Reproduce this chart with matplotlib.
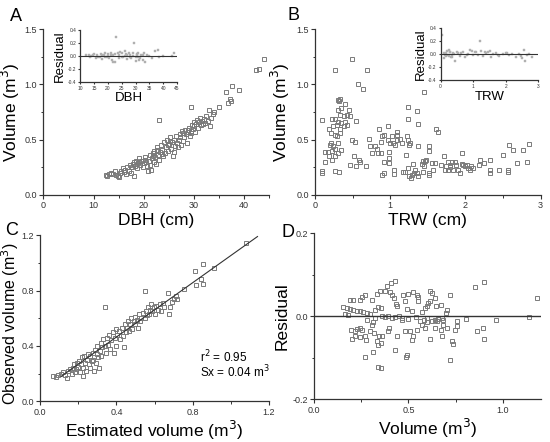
import matplotlib
matplotlib.use("Agg")
import matplotlib.pyplot as plt
import numpy as np
from matplotlib.ticker import MultipleLocator

# ---------------- data ----------------
# Panel A: DBH (cm) vs volume (m3)
dbh_a = [12.4,12.6,13.0,13.5,13.9,14.2,14.5,14.8,15.0,15.2,15.5,15.8,16.0,16.3,16.5,16.7,17.0,17.2,17.5,17.6,
         17.8,18.0,18.0,18.3,18.5,18.7,18.9,19.0,19.3,19.5,19.8,20.0,20.2,20.5,20.6,20.8,21.0,21.2,21.3,21.5,
         21.6,21.8,22.0,22.0,22.3,22.5,22.6,22.8,23.0,23.1,23.3,23.5,23.7,23.9,24.0,24.2,24.4,24.6,24.8,25.0,
         25.2,25.4,25.6,25.8,26.0,26.0,26.3,26.5,26.7,27.0,27.2,27.4,27.6,27.8,28.0,28.2,28.4,28.6,28.8,29.0,
         29.2,29.5,29.5,29.7,29.9,30.1,30.3,30.5,30.7,30.9,31.1,31.3,31.5,31.7,32.0,32.3,32.5,32.8,33.0,33.2,
         33.5,33.8,34.1,35.0,36.5,36.8,37.3,37.5,37.6,39.0,42.5,43.0,44.0,
         19.1,20.3,21.9,23.6,24.9,26.8,27.9,28.9,30.0,31.8,22.7,25.3,27.3,29.4]
vol_a = [0.18,0.17,0.19,0.20,0.19,0.22,0.18,0.17,0.16,0.20,0.22,0.24,0.21,0.23,0.19,0.25,0.22,0.27,0.20,0.25,
         0.28,0.17,0.30,0.26,0.31,0.24,0.29,0.33,0.27,0.31,0.25,0.29,0.34,0.30,0.26,0.22,0.31,0.36,0.27,0.23,
         0.33,0.38,0.30,0.40,0.34,0.28,0.43,0.36,0.68,0.32,0.39,0.45,0.41,0.35,0.48,0.38,0.43,0.50,0.40,0.46,
         0.52,0.42,0.48,0.35,0.39,0.50,0.44,0.53,0.47,0.50,0.55,0.45,0.58,0.49,0.52,0.59,0.55,0.47,0.57,0.61,
         0.53,0.80,0.58,0.63,0.60,0.66,0.57,0.64,0.68,0.61,0.66,0.70,0.63,0.67,0.69,0.65,0.71,0.67,0.77,0.62,
         0.70,0.73,0.75,0.80,0.93,0.83,0.87,0.85,0.99,0.95,1.13,1.14,1.23,
         0.30,0.32,0.35,0.37,0.45,0.43,0.56,0.59,0.62,0.64,0.41,0.49,0.52,0.56]

# Inset A: DBH vs residual
dbh_ins = [12,13,13.5,14,15,15.5,16,17,17.5,18,18.5,19,19.5,20,20.5,21,21.5,22,22.5,22,23,23.5,24,24.5,25,
           25.5,26,26.5,27,27.5,28,28.5,29,29.5,30,30.5,31,31.5,32,32.5,33,33.5,34,35,36,37,38,38.5,40,43,44,
           14.5,16.5,18,19,20,21,22.5,24,25,26,27,28,29,30.5,31,32.5,30,31.2]
res_ins_a = [0.01,0.02,-0.02,0.0,0.03,-0.03,0.01,-0.01,0.03,-0.05,0.02,0.04,-0.02,0.03,-0.04,0.05,-0.06,0.02,
             -0.10,-0.10,0.30,0.04,-0.03,0.06,0.05,-0.02,0.07,0.03,-0.05,0.04,0.02,-0.03,0.05,0.20,-0.02,0.03,
             0.05,-0.04,0.02,-0.06,0.04,-0.10,0.02,0.0,-0.03,0.07,0.09,-0.02,0.0,0.0,0.05,
             0.02,-0.02,0.01,-0.01,0.0,0.01,0.03,0.01,-0.01,0.0,0.02,-0.01,0.0,0.01,-0.01,0.02,-0.08,-0.06]

# Panel B: TRW (cm) vs volume (m3)
trw_b = [0.09,0.09,0.09,0.13,0.17,0.13,0.18,0.20,0.22,0.19,0.21,0.23,0.27,0.24,0.29,0.26,0.21,0.24,0.27,0.23,
         0.27,0.26,0.26,0.32,0.30,0.33,0.32,0.31,0.35,0.33,0.38,0.31,0.35,0.40,0.33,0.38,0.42,0.29,0.33,0.30,
         0.35,0.30,0.40,0.45,0.42,0.46,0.49,0.49,0.53,0.52,0.47,0.55,0.55,0.57,0.63,0.58,0.60,0.69,0.67,0.72,
         0.73,0.75,0.80,0.82,0.85,0.84,0.88,0.88,0.89,0.92,0.91,0.89,0.92,0.97,1.00,1.02,0.97,0.98,0.98,0.98,
         1.04,1.06,1.09,1.05,1.05,1.09,1.09,1.13,1.15,1.17,1.19,1.21,1.22,1.24,1.26,1.25,1.23,1.23,1.24,1.25,
         1.28,1.29,1.31,1.30,1.35,1.37,1.37,1.33,1.35,1.37,1.42,1.44,1.46,1.48,1.45,1.45,1.44,1.51,1.52,1.52,
         1.52,1.55,1.57,1.60,1.61,1.63,1.67,1.71,1.73,1.74,1.77,1.79,1.82,1.77,1.79,1.84,1.86,1.88,1.90,1.93,
         1.95,1.95,1.97,1.99,2.02,2.04,2.06,2.08,2.10,2.18,2.19,2.24,2.33,2.33,2.33,2.45,2.50,2.56,2.56,2.58,
         2.63,2.68,2.77,2.82,2.84]
vol_b = [0.68,0.22,0.20,0.39,0.39,0.30,0.35,0.45,0.40,0.60,0.56,0.69,0.69,0.62,0.63,0.54,0.47,0.44,0.42,0.32,
         0.35,1.13,0.22,0.21,0.86,0.87,0.85,0.77,0.79,0.72,0.71,0.66,0.65,0.66,0.60,0.62,0.63,0.53,0.56,0.47,
         0.41,0.38,0.82,0.77,0.72,0.71,1.23,0.50,0.48,0.35,0.27,0.26,0.67,1.00,0.96,0.32,0.30,1.13,0.26,0.51,
         0.44,0.38,0.44,0.42,0.60,0.38,0.38,0.48,0.53,0.54,0.30,0.18,0.20,0.50,0.47,0.53,0.62,0.39,0.33,0.29,
         0.47,0.45,0.50,0.23,0.19,0.54,0.57,0.51,0.47,0.21,0.21,0.36,0.53,0.50,0.47,0.45,0.80,0.69,0.24,0.17,
         0.15,0.18,0.20,0.28,0.76,0.64,0.44,0.23,0.20,0.17,0.28,0.31,0.31,0.32,0.93,0.26,0.21,0.44,0.40,0.18,
         0.20,0.29,0.23,0.29,0.60,0.57,0.27,0.35,0.23,0.26,0.30,0.27,0.30,0.23,0.25,0.23,0.30,0.27,0.23,0.20,
         0.38,0.28,0.27,0.26,0.27,0.24,0.23,0.26,0.24,0.27,0.32,0.29,0.32,0.23,0.20,0.23,0.36,0.23,0.21,0.45,
         0.41,0.29,0.41,0.30,0.46]

# Inset B: TRW vs residual
trw_ins = [0.05,0.1,0.15,0.2,0.25,0.3,0.35,0.4,0.45,0.5,0.55,0.6,0.7,0.8,0.9,0.95,1.0,1.1,1.2,1.25,1.3,1.4,
           1.5,1.55,1.6,1.7,1.8,1.9,2.0,2.1,2.2,2.3,2.4,2.5,2.55,2.6,2.65,2.7,2.8,0.12,0.18,0.22,0.28,0.32,
           0.38,1.15,1.45,1.05,0.85,0.75,0.16,0.26,0.34,0.62,1.35,1.75,2.05,2.45]
res_ins_b = [0.30,0.01,-0.02,0.05,-0.03,0.03,-0.05,0.0,-0.10,0.04,0.02,-0.03,0.03,-0.02,0.07,0.05,-0.02,0.03,
             0.20,0.05,-0.03,0.02,0.05,-0.04,0.0,0.02,-0.03,0.0,0.01,-0.02,0.0,-0.05,0.0,-0.06,0.07,-0.10,
             -0.02,0.0,-0.04,-0.06,0.02,-0.01,0.04,-0.04,0.02,-0.01,0.03,0.04,0.0,-0.05,-0.03,0.06,-0.02,
             0.01,0.03,-0.01,0.02,-0.03]

# Panel C: estimated vs observed volume (m3)
est_c = [0.07,0.083,0.096,0.108,0.12,0.13,0.14,0.148,0.157,0.165,0.17,0.177,0.183,0.188,0.195,0.20,0.205,0.209,
         0.212,0.217,0.223,0.226,0.23,0.235,0.24,0.247,0.252,0.257,0.26,0.264,0.27,0.275,0.278,0.282,0.287,
         0.292,0.296,0.30,0.304,0.31,0.313,0.317,0.32,0.327,0.33,0.34,0.34,0.344,0.348,0.357,0.362,0.365,
         0.374,0.38,0.386,0.39,0.397,0.40,0.403,0.414,0.42,0.428,0.435,0.44,0.445,0.449,0.456,0.46,0.466,
         0.473,0.478,0.483,0.49,0.496,0.50,0.508,0.513,0.518,0.522,0.53,0.54,0.548,0.548,0.557,0.56,0.565,
         0.57,0.577,0.583,0.588,0.595,0.60,0.609,0.617,0.626,0.635,0.643,0.652,0.67,0.675,0.68,0.69,0.70,
         0.71,0.72,0.757,0.81,0.817,0.843,0.855,0.852,0.913,1.08]
obs_c = [0.18,0.175,0.19,0.20,0.21,0.19,0.17,0.22,0.23,0.20,0.24,0.27,0.21,0.23,0.28,0.25,0.29,0.21,0.27,0.32,
         0.24,0.18,0.33,0.28,0.22,0.30,0.34,0.27,0.24,0.33,0.29,0.35,0.30,0.22,0.37,0.28,0.34,0.40,0.32,0.24,
         0.36,0.42,0.33,0.39,0.45,0.68,0.40,0.35,0.46,0.41,0.48,0.38,0.44,0.50,0.35,0.46,0.52,0.40,0.48,0.51,
         0.45,0.53,0.47,0.39,0.56,0.50,0.53,0.58,0.51,0.56,0.60,0.52,0.58,0.61,0.56,0.59,0.53,0.63,0.58,0.60,
         0.64,0.80,0.60,0.65,0.62,0.68,0.63,0.66,0.70,0.65,0.68,0.63,0.69,0.66,0.70,0.65,0.71,0.68,0.78,0.63,
         0.68,0.72,0.74,0.76,0.74,0.81,0.94,0.84,0.88,0.99,0.85,0.96,1.14]
# fitted line
fit_x = [0.11, 1.14]
fit_y = [0.18, 1.19]
r2_text = "r$^2$ = 0.95"
sx_text = "Sx = 0.04 m$^3$"

# Panel D: volume vs residual
vol_d = [0.155,0.173,0.19,0.208,0.226,0.244,0.26,0.28,0.297,0.164,0.182,0.19,0.208,0.244,0.256,0.27,0.306,
         0.332,0.35,0.376,0.385,0.408,0.43,0.403,0.415,0.426,0.433,0.438,0.473,0.496,0.526,0.544,0.553,0.479,
         0.49,0.519,0.549,0.323,0.34,0.357,0.323,0.57,0.589,0.597,0.606,0.615,0.615,0.627,0.638,0.645,0.673,
         0.703,0.697,0.72,0.853,0.90,1.18,1.136,0.963,0.805,
         0.36,0.378,0.394,0.412,0.43,0.448,0.466,0.50,0.54,0.58,0.597,0.624,0.641,0.659,0.677,0.685,
         0.196,0.217,0.23,0.244,0.256,0.20,0.217,0.244,0.27,0.274,0.297,0.306,0.32,0.332,0.34,0.344,0.355,
         0.362,0.27,0.314,0.337,0.355,0.394,0.397,0.43,0.438,0.482,0.486,0.49,0.509,0.518,0.526,0.544,0.562,
         0.57,0.589,0.615,0.638,0.65,0.673,0.677,0.685,0.703,0.72,0.73,0.738,0.747,0.756,0.756,0.862,0.897,
         0.90,0.28,0.31,0.465,0.60]
res_d = [0.023,0.020,0.018,0.015,0.014,0.012,0.010,0.009,0.006,0.006,0.004,0.040,0.039,0.040,0.046,0.051,0.039,
         0.054,0.060,0.060,0.073,0.080,0.085,0.059,0.052,0.044,0.030,0.024,0.052,0.054,0.058,0.052,0.046,0.036,
         0.018,0.012,0.036,0.016,0.022,0.019,-0.004,0.010,0.019,0.024,0.032,0.038,0.060,0.056,0.044,0.024,0.027,
         0.016,0.008,0.052,0.071,0.083,0.044,-0.002,-0.010,-0.006,
         0.0,-0.002,0.002,-0.004,-0.002,0.0,-0.004,-0.006,-0.002,-0.008,-0.004,-0.012,-0.010,-0.006,-0.004,-0.010,
         -0.032,-0.036,-0.030,-0.027,-0.032,-0.054,-0.048,-0.051,-0.048,-0.056,-0.036,-0.022,-0.040,-0.060,-0.068,
         -0.048,-0.064,-0.048,-0.097,-0.085,-0.121,-0.125,-0.036,-0.027,-0.081,-0.048,-0.036,-0.097,-0.094,-0.036,
         -0.056,-0.048,-0.032,-0.012,-0.020,-0.028,-0.054,-0.028,-0.012,-0.032,-0.048,-0.020,-0.027,-0.105,-0.060,
         -0.067,-0.032,-0.024,-0.012,-0.036,-0.028,-0.054,-0.008,-0.014,-0.008,-0.014]

# ---------------- style ----------------
EDGE = "#7a7a7a"
LINE = "#333333"
FS_LABEL = 12.5
FS_TICK = 6.5
MS = 3.3

plt.rcParams["font.family"] = ["Liberation Sans", "DejaVu Sans"]
plt.rcParams["axes.unicode_minus"] = False

fig = plt.figure(figsize=(5.5, 4.42), dpi=100)


def style_axes(ax, tick_fs=FS_TICK, major_len=3, minor_len=1.8):
    for s in ("top", "right"):
        ax.spines[s].set_visible(False)
    for s in ("left", "bottom"):
        ax.spines[s].set_linewidth(0.9)
        ax.spines[s].set_color(LINE)
    ax.tick_params(which="major", direction="out", length=major_len, width=0.8,
                   labelsize=tick_fs, colors=LINE, pad=1.5)
    ax.tick_params(which="minor", direction="out", length=minor_len, width=0.7, colors=LINE)


def scatter(ax, x, y, ms=MS):
    ax.plot(x, y, linestyle="none", marker="s", markersize=ms, markerfacecolor="none",
            markeredgecolor=EDGE, markeredgewidth=0.7)


# Panel A
axA = fig.add_axes([0.079, 0.559, 0.410, 0.375])
scatter(axA, dbh_a, vol_a)
axA.set_xlim(0, 45)
axA.set_ylim(0, 1.5)
axA.xaxis.set_major_locator(MultipleLocator(10))
axA.xaxis.set_minor_locator(MultipleLocator(5))
axA.yaxis.set_major_locator(MultipleLocator(0.5))
axA.yaxis.set_minor_locator(MultipleLocator(0.25))
style_axes(axA)
axA.set_xlabel("DBH (cm)", fontsize=FS_LABEL, labelpad=2)
axA.set_ylabel("Volume (m$^3$)", fontsize=FS_LABEL, labelpad=2)

# Inset A
axAi = fig.add_axes([0.146, 0.815, 0.176, 0.117])
axAi.plot(dbh_ins, res_ins_a, linestyle="none", marker="s", markersize=1.6,
          markerfacecolor="#b0b0b0", markeredgecolor="#b0b0b0", markeredgewidth=0.3)
axAi.axhline(0, color=LINE, lw=0.8)
axAi.set_xlim(10, 45)
axAi.set_ylim(-0.4, 0.4)
axAi.xaxis.set_major_locator(MultipleLocator(5))
axAi.yaxis.set_major_locator(MultipleLocator(0.2))
style_axes(axAi, tick_fs=3.5, major_len=1.5, minor_len=0.8)
axAi.set_xlabel("DBH", fontsize=9.5, labelpad=1)
axAi.set_ylabel("Residual", fontsize=9.5, labelpad=1)

# Panel B
axB = fig.add_axes([0.573, 0.559, 0.410, 0.375])
scatter(axB, trw_b, vol_b)
axB.set_xlim(0, 3)
axB.set_ylim(0, 1.5)
axB.xaxis.set_major_locator(MultipleLocator(1))
axB.xaxis.set_minor_locator(MultipleLocator(0.5))
axB.yaxis.set_major_locator(MultipleLocator(0.5))
axB.yaxis.set_minor_locator(MultipleLocator(0.25))
style_axes(axB)
axB.set_xlabel("TRW (cm)", fontsize=FS_LABEL, labelpad=2)
axB.set_ylabel("Volume (m$^3$)", fontsize=FS_LABEL, labelpad=3)

# Inset B
axBi = fig.add_axes([0.801, 0.819, 0.178, 0.117])
axBi.plot(trw_ins, res_ins_b, linestyle="none", marker="s", markersize=1.6,
          markerfacecolor="#b0b0b0", markeredgecolor="#b0b0b0", markeredgewidth=0.3)
axBi.axhline(0, color=LINE, lw=0.8)
axBi.set_xlim(0, 3)
axBi.set_ylim(-0.4, 0.4)
axBi.xaxis.set_major_locator(MultipleLocator(1))
axBi.yaxis.set_major_locator(MultipleLocator(0.2))
style_axes(axBi, tick_fs=3.5, major_len=1.5, minor_len=0.8)
axBi.set_xlabel("TRW", fontsize=9.5, labelpad=1)
axBi.set_ylabel("Residual", fontsize=9.5, labelpad=1)

# Panel C
axC = fig.add_axes([0.073, 0.092, 0.416, 0.376])
scatter(axC, est_c, obs_c)
axC.plot(fit_x, fit_y, color=LINE, lw=0.8)
axC.set_xlim(0, 1.2)
axC.set_ylim(0, 1.2)
axC.xaxis.set_major_locator(MultipleLocator(0.4))
axC.xaxis.set_minor_locator(MultipleLocator(0.2))
axC.yaxis.set_major_locator(MultipleLocator(0.4))
axC.yaxis.set_minor_locator(MultipleLocator(0.2))
style_axes(axC)
axC.set_xlabel("Estimated volume (m$^3$)", fontsize=FS_LABEL, labelpad=2)
axC.set_ylabel("Observed volume (m$^3$)", fontsize=11.5, labelpad=2)
axC.yaxis.set_label_coords(-0.082, 0.47)
axC.text(0.84, 0.32, r2_text, fontsize=8.5, ha="left", va="center")
axC.text(0.84, 0.21, sx_text, fontsize=8.5, ha="left", va="center")

# Panel D
axD = fig.add_axes([0.571, 0.0966, 0.412, 0.3754])
scatter(axD, vol_d, res_d)
axD.axhline(0, color=LINE, lw=1.0)
axD.set_xlim(0, 1.2)
axD.set_ylim(-0.2, 0.2)
axD.xaxis.set_major_locator(MultipleLocator(0.5))
axD.xaxis.set_minor_locator(MultipleLocator(0.25))
axD.yaxis.set_major_locator(MultipleLocator(0.2))
axD.yaxis.set_minor_locator(MultipleLocator(0.1))
style_axes(axD)
axD.set_xlabel("Volume (m$^3$)", fontsize=FS_LABEL, labelpad=2)
axD.set_ylabel("Residual", fontsize=FS_LABEL, labelpad=2)

# Panel letters
fig.text(0.018, 0.962, "A", fontsize=13, va="center", ha="left")
fig.text(0.523, 0.966, "B", fontsize=13, va="center", ha="left")
fig.text(0.010, 0.478, "C", fontsize=13, va="center", ha="left")
fig.text(0.512, 0.474, "D", fontsize=13, va="center", ha="left")

fig.savefig("out.png", dpi=100)
